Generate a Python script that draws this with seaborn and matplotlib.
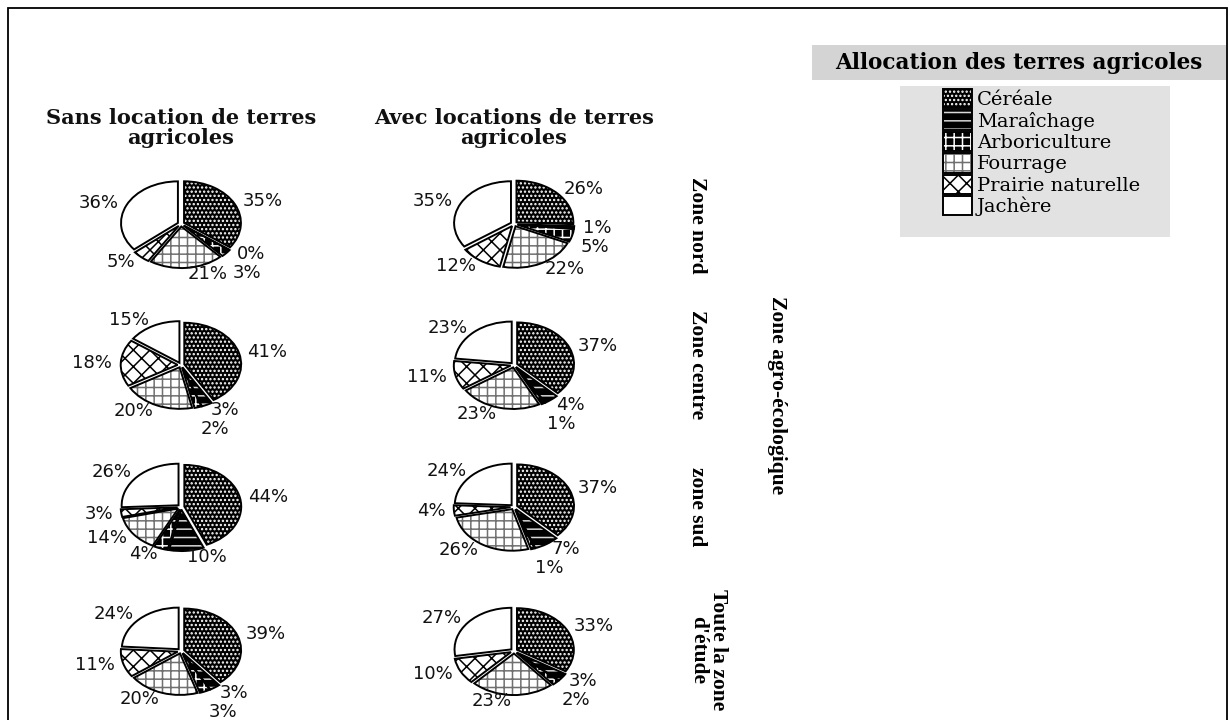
import matplotlib
matplotlib.use("Agg")
import matplotlib.pyplot as plt
import seaborn as sns
from matplotlib.patches import Rectangle
from matplotlib.legend_handler import HandlerTuple

# ---- data -----------------------------------------------------------------
categories = ["Céréale", "Maraîchage", "Arboriculture", "Fourrage",
              "Prairie naturelle", "Jachère"]
scenarios = ["Sans location de terres\nagricoles",
             "Avec locations de terres\nagricoles"]
zones = ["Zone nord", "Zone centre", "zone sud", "Toute la zone\nd'étude"]
zone_axis_label = "Zone agro-écologique"
legend_title = "Allocation des terres agricoles"

# land allocation shares (%) in category order
sans_nord = [35, 0, 3, 21, 5, 36]
sans_centre = [41, 3, 2, 20, 18, 15]
sans_sud = [44, 10, 4, 14, 3, 26]
sans_total = [39, 3, 3, 20, 11, 24]

avec_nord = [26, 1, 5, 22, 12, 35]
avec_centre = [37, 4, 1, 23, 11, 23]
avec_sud = [37, 7, 1, 26, 4, 24]
avec_total = [33, 3, 2, 23, 10, 27]

sans_location = [sans_nord, sans_centre, sans_sud, sans_total]
avec_location = [avec_nord, avec_centre, avec_sud, avec_total]

# ---- style ------------------------------------------------------------------
sns.set_theme(style="white")
plt.rcParams["font.family"] = ["DejaVu Sans"]
plt.rcParams["text.color"] = "black"
plt.rcParams["hatch.linewidth"] = 1.1

fills = ["black", "black", "black", "white", "white", "white"]
hatch_colors = ["white", "#d8d8d8", "white", "#707070", "black", "white"]
hatches = ["....", "--", "++", "++", "xx", ""]

W_PX, H_PX = 1230, 720
fig = plt.figure(figsize=(W_PX / 100, H_PX / 100), dpi=100)
fig.patch.set_facecolor("white")

col_x = [181, 514]
row_y = [224, 365, 507, 651]
ax_w, ax_h = 182, 133
LIM = 1.6


def px_axes(cx, cy, w, h):
    return fig.add_axes([(cx - w / 2) / W_PX, 1 - (cy + h / 2) / H_PX,
                         w / W_PX, h / H_PX])


legend_handles = None
pie_axes = []
for j, series in enumerate([sans_location, avec_location]):
    for i, vals in enumerate(series):
        ax = px_axes(col_x[j], row_y[i], ax_w, ax_h)
        labels = [f"{v}%" for v in vals]
        explode = [0.06] * len(vals)
        filled, texts = ax.pie(
            vals, startangle=90, counterclock=False, explode=explode,
            labels=labels, labeldistance=1.15,
            wedgeprops=dict(linewidth=0),
            textprops=dict(fontsize=13, family="DejaVu Sans", color="#111111"))
        for w, fc, hc, h in zip(filled, fills, hatch_colors, hatches):
            w.set_facecolor(fc)
            w.set_edgecolor(hc)
            w.set_hatch(h)
        outlines, _ = ax.pie(
            vals, startangle=90, counterclock=False, explode=explode,
            wedgeprops=dict(fill=False, edgecolor="black", linewidth=1.4))
        ax.set_aspect("auto")
        ax.set_xlim(-LIM, LIM)
        ax.set_ylim(-LIM, LIM)
        ax.axis("off")
        pie_axes.append((ax, texts))
        if legend_handles is None:
            legend_handles = [(f, o) for f, o in zip(filled, outlines)]

# spread percentage labels that collide
fig.canvas.draw()
renderer = fig.canvas.get_renderer()
for ax, texts in pie_axes:
    placed = []
    for t in texts:
        for _ in range(10):
            bb = t.get_window_extent(renderer)
            hit = [p for p in placed if bb.overlaps(p)]
            if not hit:
                break
            p = hit[0]
            x, y = t.get_position()
            if y < 0:
                dy_disp = -(bb.y1 - p.y0) - 1
            else:
                dy_disp = (p.y1 - bb.y0) + 1
            inv = ax.transData.inverted()
            x0, y0 = ax.transData.transform((x, y))
            nx, ny = inv.transform((x0, y0 + dy_disp))
            t.set_position((nx, ny))
        placed.append(t.get_window_extent(renderer))

# column headers
for j, title in enumerate(scenarios):
    fig.text(col_x[j] / W_PX, 1 - 128 / H_PX, title, ha="center", va="center",
             family="DejaVu Serif", fontweight="bold", fontsize=15,
             linespacing=0.95, color="#111111")

# zone labels
zone_pos = [(697, 225), (697, 365), (697, 507), (708, 650)]
for (zx, zy), z in zip(zone_pos, zones):
    fig.text(zx / W_PX, 1 - zy / H_PX, z, rotation=270, ha="center",
             va="center", family="Liberation Serif", fontweight="bold",
             fontsize=15.5, linespacing=1.0, multialignment="center")
fig.text(777 / W_PX, 1 - 395 / H_PX, zone_axis_label, rotation=270,
         ha="center", va="center", family="Liberation Serif",
         fontweight="bold", fontsize=15.5)

# legend title box and legend panel
fig.add_artist(Rectangle((812 / W_PX, 1 - 80 / H_PX), 414 / W_PX, 35 / H_PX,
                         transform=fig.transFigure, facecolor="#d4d4d4",
                         edgecolor="none", zorder=0))
fig.text(1019 / W_PX, 1 - 62.5 / H_PX, legend_title, ha="center", va="center",
         family="DejaVu Serif", fontweight="bold", fontsize=15.5)
fig.add_artist(Rectangle((900 / W_PX, 1 - 237 / H_PX), 270 / W_PX,
                         151 / H_PX, transform=fig.transFigure,
                         facecolor="#e2e2e2", edgecolor="none", zorder=0))
leg = fig.legend(legend_handles, categories, loc="upper left",
                 bbox_to_anchor=(943 / W_PX, 1 - 89 / H_PX), frameon=False,
                 handler_map={tuple: HandlerTuple(ndivide=1, pad=0)},
                 handlelength=1.5, handleheight=1.15, handletextpad=0.25,
                 labelspacing=0.06, borderpad=0, borderaxespad=0,
                 prop=dict(family="DejaVu Serif", size=14))
for t in leg.get_texts():
    t.set_color("black")

# outer frame
fig.add_artist(Rectangle((8 / W_PX, -0.01), 1219 / W_PX, 1 - 8 / H_PX + 0.01,
                         transform=fig.transFigure, fill=False,
                         edgecolor="black", linewidth=1.3))

fig.savefig("out.png", dpi=100)
